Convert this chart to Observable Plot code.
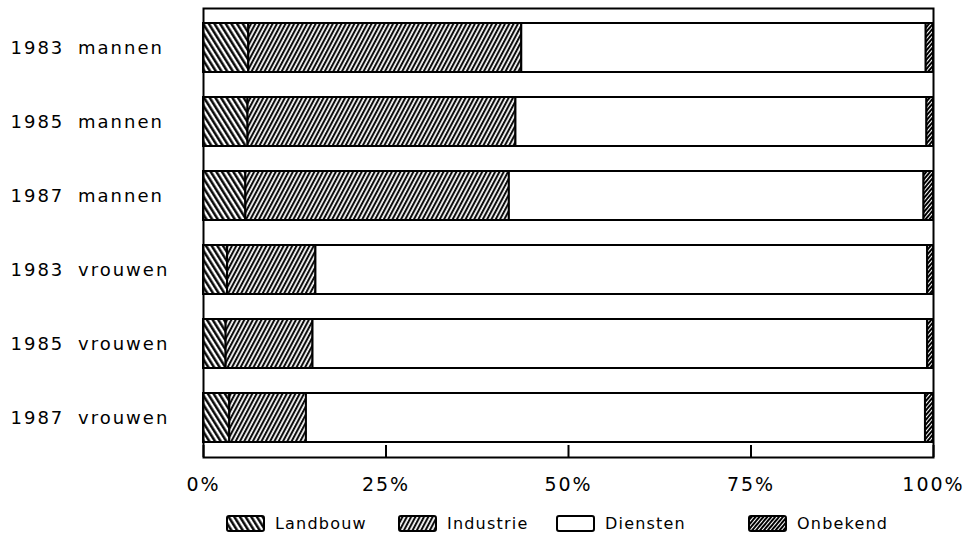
<!DOCTYPE html>
<html>
<head>
<meta charset="utf-8">
<script src="https://cdn.jsdelivr.net/npm/d3@7"></script>
<script src="https://cdn.jsdelivr.net/npm/@observablehq/plot@0.6"></script>
<style>
  body { margin: 0; background: #fff; font-family: "DejaVu Sans", sans-serif; }
  #chart svg { display: block; }
  #legend { position: relative; width: 973px; height: 53px; }
  .item { position: absolute; top: 14px; height: 19px; display: flex; align-items: center; }
  .item svg { display: block; }
  .item span { margin-left: 10px; font-size: 16px; letter-spacing: 1.2px; color: #000; }
</style>
</head>
<body>
<svg width="0" height="0" style="position:absolute">
  <defs>
    <pattern id="pat0" patternUnits="userSpaceOnUse" width="4.8" height="10" patternTransform="rotate(-32)">
      <rect width="4.8" height="10" fill="#fff"/>
      <line x1="1.3" y1="0" x2="1.3" y2="10" stroke="#000" stroke-width="2.4"/>
    </pattern>
    <pattern id="pat1" patternUnits="userSpaceOnUse" width="3.8" height="10" patternTransform="rotate(28)">
      <rect width="3.8" height="10" fill="#fff"/>
      <line x1="1.1" y1="0" x2="1.1" y2="10" stroke="#000" stroke-width="2"/>
    </pattern>
    <pattern id="pat2" patternUnits="userSpaceOnUse" width="10" height="10">
      <rect width="10" height="10" fill="#fff"/>
    </pattern>
    <pattern id="pat3" patternUnits="userSpaceOnUse" width="3" height="10" patternTransform="rotate(40)">
      <rect width="3" height="10" fill="#fff"/>
      <line x1="1" y1="0" x2="1" y2="10" stroke="#000" stroke-width="2"/>
    </pattern>
  </defs>
</svg>
<div id="chart"></div>
<div id="legend"></div>
<script>
const groups = ["1983 mannen", "1985 mannen", "1987 mannen", "1983 vrouwen", "1985 vrouwen", "1987 vrouwen"];
const categories = ["Landbouw", "Industrie", "Diensten", "Onbekend"];
const landbouw  = [6.2, 6.1, 5.8, 3.3, 3.1, 3.6];
const industrie = [37.4, 36.7, 36.1, 12.1, 11.9, 10.5];
const diensten  = [55.4, 56.3, 56.8, 83.8, 84.2, 84.8];
const onbekend  = [1.0, 0.9, 1.3, 0.8, 0.8, 1.1];
const xTicks = [0, 25, 50, 75, 100];

const series = [landbouw, industrie, diensten, onbekend];
const data = groups.flatMap((g, i) =>
  categories.map((c, j) => ({group: g, category: c, value: series[j][i]}))
);
const fills = categories.map((c, i) => `url(#pat${i})`);

const plot = Plot.plot({
  width: 973,
  height: 500,
  marginLeft: 203,
  marginRight: 40,
  marginTop: 8,
  marginBottom: 43,
  style: {fontFamily: "DejaVu Sans", fontSize: "18px", color: "black", background: "white", letterSpacing: "2px", wordSpacing: "6px"},
  x: {domain: [0, 100], label: null},
  y: {domain: groups, paddingInner: 1/3, paddingOuter: 1/6, axis: null},
  color: {domain: categories, range: fills},
  marks: [
    Plot.barX(data, Plot.stackX({x: "value", y: "group", fill: "category", order: categories, stroke: "black", strokeWidth: 2})),
    Plot.frame({stroke: "black", strokeWidth: 2}),
    Plot.axisX({ticks: xTicks, tickSize: -12, strokeWidth: 2, tickFormat: () => "", label: null}),
    Plot.axisX({ticks: xTicks, tickSize: 0, tickPadding: 20, tickFormat: d => d + "%", fontSize: 19, label: null}),
    Plot.text(groups, {y: d => d, text: d => d, frameAnchor: "left", dx: -193, textAnchor: "start", fontSize: 18})
  ]
});
document.getElementById("chart").appendChild(plot);

const legendX = [226, 398, 556, 748];
const legend = document.getElementById("legend");
categories.forEach((c, i) => {
  const item = document.createElement("div");
  item.className = "item";
  item.style.left = legendX[i] + "px";
  item.innerHTML = `<svg width="39" height="17"><rect x="1" y="1" width="37" height="15" rx="2" fill="${fills[i]}" stroke="#000" stroke-width="2"/></svg><span>${c}</span>`;
  legend.appendChild(item);
});
</script>
</body>
</html>
